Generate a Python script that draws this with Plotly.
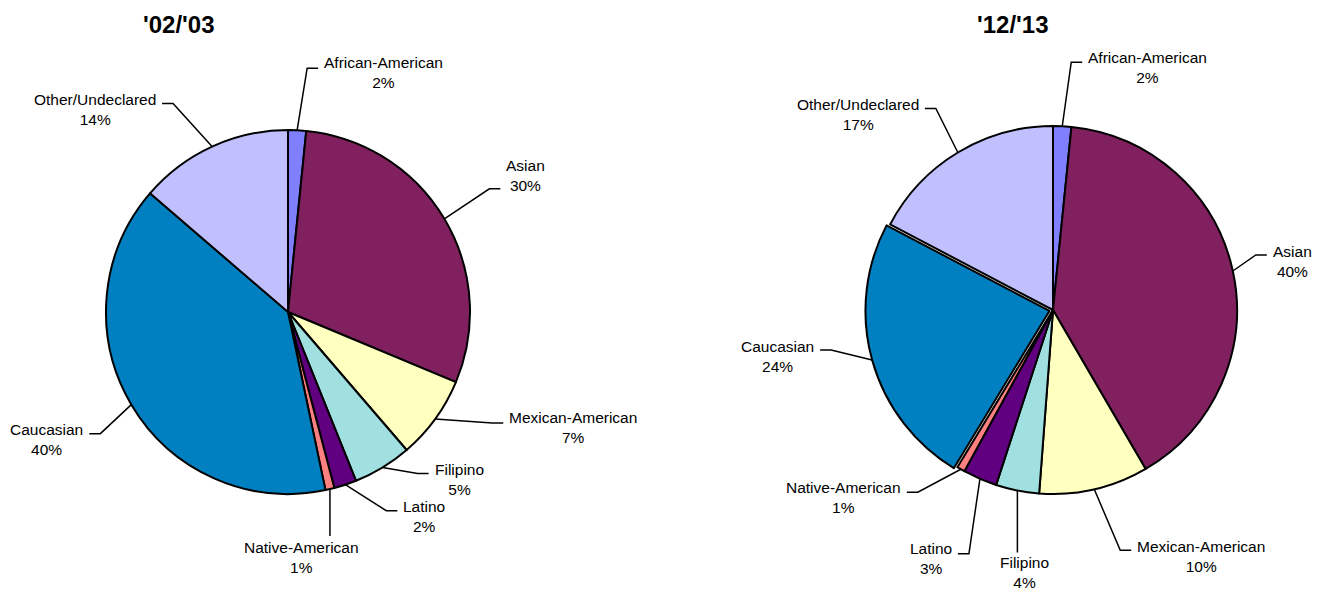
import math
import plotly.graph_objects as go

# ---------------- data ----------------
categories = ["African-American", "Asian", "Mexican-American", "Filipino",
              "Latino", "Native-American", "Caucasian", "Other/Undeclared"]
values_0203 = [1.6, 29.7, 7.4, 5.2, 2.0, 0.8, 39.6, 13.7]
values_1213 = [1.6, 40.0, 9.6, 3.8, 3.0, 0.7, 24.0, 17.3]
titles = ["'02/'03", "'12/'13"]

# ---------------- style ----------------
colors = ["#8080FF", "#80205F", "#FFFFC0", "#A0E0E0",
          "#600080", "#FF8080", "#0080C0", "#C0C0FF"]
W, H = 1318, 592
FONT = "Liberation Sans, Arial, sans-serif"

# pie geometry in pixels: centre x, centre y, radius, pull list
pies = [
    dict(values=values_0203, cx=288, cy=312, r=182, pull=[0] * 8,
         title_xy=(179, 24)),
    dict(values=values_1213, cx=1053, cy=310, r=184,
         pull=[0, 0, 0, 0, 0, 0, 0.02, 0], title_xy=(1012, 25)),
]
# leader-line style per slice: (dx, dy) of line end from slice edge,
# side of text ('r' right, 'l' left, 'b' below), text x offset, text mid y offset
leaders = [
    [(21, -62, 'r', 0, 4), (56, -30, 'r', 0, -13), (68, 4, 'r', 0, 5),
     (46, 6, 'r', 0, 6), (52, 26, 'r', 0, 6), (0, 47, 'b', -28, 21),
     (-42, 29, 'l', 0, 6), (-50, -43, 'l', 0, 6)],
    [(20, -64, 'r', 0, 5), (34, -16, 'r', 0, 7), (37, 61, 'r', 0, 6),
     (0, 62, 'b', 7, 20), (-22, 75, 'l', 0, 5), (-54, 23, 'l', 0, 5),
     (-52, -10, 'l', 0, 6), (-33, -44, 'l', 0, 6)],
]


def px(x):
    return x / W


def py(y):
    return 1 - y / H


fig = go.Figure()
annotations = []
shapes = []

for p, lead in zip(pies, leaders):
    vals = p["values"]
    maxpull = max(p["pull"])
    R = p["r"] * (1 + maxpull)
    fig.add_trace(go.Pie(
        labels=categories, values=vals, sort=False, direction="clockwise",
        rotation=0, pull=p["pull"], textinfo="none", showlegend=False,
        marker=dict(colors=colors, line=dict(color="#000000", width=2)),
        domain=dict(x=[px(p["cx"] - R), px(p["cx"] + R)],
                    y=[py(p["cy"] + R), py(p["cy"] - R)]),
        hovertemplate="%{label}<br>%{percent}<extra></extra>",
    ))
    total = sum(vals)
    cum = 0.0
    for i, (lab, v) in enumerate(zip(categories, vals)):
        mid = 2 * math.pi * (cum + v / 2) / total
        cum += v
        rr = p["r"] * (1 + p["pull"][i])
        ex = p["cx"] + rr * math.sin(mid)
        ey = p["cy"] - rr * math.cos(mid)
        dx, dy, side, tdx, tdy = lead[i]
        endx, endy = ex + dx, ey + dy
        if side == 'r':
            elbx = endx - 11
            path = f"M {px(ex)},{py(ey)} L {px(elbx)},{py(endy)} L {px(endx)},{py(endy)}"
            tx, xa = endx + 4, "left"
        elif side == 'l':
            elbx = endx + 11
            path = f"M {px(ex)},{py(ey)} L {px(elbx)},{py(endy)} L {px(endx)},{py(endy)}"
            tx, xa = endx - 4, "right"
        else:
            path = f"M {px(ex)},{py(ey)} L {px(endx)},{py(endy)}"
            tx, xa = endx + tdx, "center"
        shapes.append(dict(type="path", xref="paper", yref="paper", path=path,
                           line=dict(color="#000000", width=1.5)))
        pct = round(v / total * 100)
        annotations.append(dict(
            x=px(tx), y=py(endy + tdy), xref="paper", yref="paper",
            xanchor=xa, yanchor="middle", align="center", showarrow=False,
            text=f"{lab}<br>{pct}%",
            font=dict(family=FONT, size=15.5, color="#000000")))

for p, t in zip(pies, titles):
    tx, ty = p["title_xy"]
    annotations.append(dict(
        x=px(tx), y=py(ty), xref="paper", yref="paper", xanchor="center",
        yanchor="middle", showarrow=False, text=f"<b>{t}</b>",
        font=dict(family=FONT, size=24, color="#000000")))

fig.update_layout(
    width=W, height=H, margin=dict(l=0, r=0, t=0, b=0),
    paper_bgcolor="#FFFFFF", plot_bgcolor="#FFFFFF",
    annotations=annotations, shapes=shapes,
)

fig.write_html("out.html",
               config={"displayModeBar": False},
               post_script="document.body.style.margin='0px';"
                           "document.body.style.overflow='hidden';")
